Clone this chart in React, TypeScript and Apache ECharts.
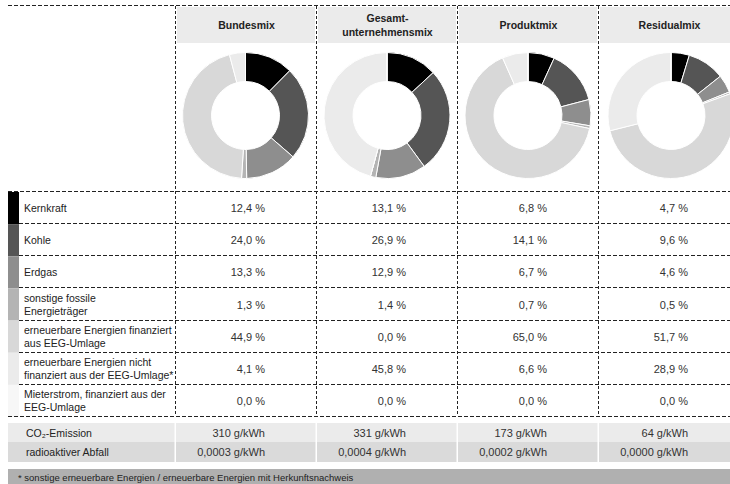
import React, { useEffect, useRef } from "react";
import * as echarts from "echarts";

const mixes = ["Bundesmix", "Gesamt-\nunternehmensmix", "Produktmix", "Residualmix"];
const categories = [
  "Kernkraft",
  "Kohle",
  "Erdgas",
  "sonstige fossile\nEnergieträger",
  "erneuerbare Energien finanziert\naus EEG-Umlage",
  "erneuerbare Energien nicht\nfinanziert aus der EEG-Umlage*",
  "Mieterstrom, finanziert aus der\nEEG-Umlage",
];
const bundesmix = [12.4, 24.0, 13.3, 1.3, 44.9, 4.1, 0.0];
const gesamtmix = [13.1, 26.9, 12.9, 1.4, 0.0, 45.8, 0.0];
const produktmix = [6.8, 14.1, 6.7, 0.7, 65.0, 6.6, 0.0];
const residualmix = [4.7, 9.6, 4.6, 0.5, 51.7, 28.9, 0.0];
const co2Values = [310, 331, 173, 64];
const wasteValues = [0.0003, 0.0004, 0.0002, 0.0];
const bottomLabels = ["CO₂-Emission", "radioaktiver Abfall"];
const footnote = "* sonstige erneuerbare Energien / erneuerbare Energien mit Herkunftsnachweis";

const sliceColors = ["#000000", "#555555", "#8e8e8e", "#b4b4b4", "#d8d8d8", "#ebebeb", "#f7f7f7"];
const FONT = "'Liberation Sans', Arial, 'DejaVu Sans', sans-serif";

const fmtPct = (v: number) => v.toFixed(1).replace(".", ",") + " %";
const fmtCo2 = (v: number) => `${v} g/kWh`;
const fmtWaste = (v: number) => v.toFixed(4).replace(".", ",") + " g/kWh";

export default function App() {
  const ref = useRef<HTMLDivElement>(null);
  useEffect(() => {
    if (!ref.current) return;
    const chart = echarts.init(ref.current, undefined, { renderer: "svg" });
    const allMixes = [bundesmix, gesamtmix, produktmix, residualmix];

    const colX = [175, 316, 457, 598];
    const colW = 141;
    const pieCX = [245.5, 387, 528, 671];
    const pieCY = 115.5;
    const rowTop = 191;
    const rowH = 32.15;
    const tableBottom = rowTop + categories.length * rowH;

    const graphics: any[] = [];
    const dash = { stroke: "#222", lineWidth: 1, lineDash: [4, 2] };

    // header bands
    colX.forEach((x, i) => {
      graphics.push({
        type: "rect",
        shape: { x: x + 2, y: 7, width: (i === 3 ? 732 - x : colW) - 3, height: 36 },
        style: { fill: "#ebebeb" },
        silent: true,
      });
      graphics.push({
        type: "text",
        style: {
          text: mixes[i],
          x: x + colW / 2 + 1,
          y: 25,
          textAlign: "center",
          textVerticalAlign: "middle",
          fontFamily: FONT,
          fontSize: 10.5,
          fontWeight: "bold",
          lineHeight: 14,
          fill: "#222",
        },
        silent: true,
      });
    });

    // swatches
    categories.forEach((_, i) => {
      graphics.push({
        type: "rect",
        shape: { x: 8, y: rowTop + i * rowH + 1, width: 11, height: rowH },
        style: { fill: sliceColors[i] },
        silent: true,
      });
    });

    // horizontal dashed lines
    graphics.push({
      type: "line",
      shape: { x1: 8, y1: 5.5, x2: 730, y2: 5.5 },
      style: dash,
      silent: true,
    });
    for (let i = 0; i <= categories.length; i++) {
      const y = Math.round(rowTop + i * rowH) + 0.5;
      const x1 = i === 0 || i === categories.length ? 8 : 19;
      graphics.push({
        type: "line",
        shape: { x1, y1: y, x2: 730, y2: y },
        style: dash,
        silent: true,
      });
    }
    // vertical dashed lines
    colX.forEach((x) => {
      graphics.push({
        type: "line",
        shape: { x1: x + 0.5, y1: 6, x2: x + 0.5, y2: Math.round(tableBottom) },
        style: { stroke: "#222", lineWidth: 1, lineDash: [3, 2] },
        silent: true,
      });
    });

    // row labels and values
    categories.forEach((c, i) => {
      const cy = rowTop + i * rowH + rowH / 2 + 1;
      graphics.push({
        type: "text",
        style: {
          text: c,
          x: 24,
          y: cy,
          textAlign: "left",
          textVerticalAlign: "middle",
          fontFamily: FONT,
          fontSize: 10.5,
          lineHeight: 13,
          fill: "#222",
        },
        silent: true,
      });
      allMixes.forEach((m, j) => {
        graphics.push({
          type: "text",
          style: {
            text: fmtPct(m[i]),
            x: colX[j] + 90,
            y: cy,
            textAlign: "right",
            textVerticalAlign: "middle",
            fontFamily: FONT,
            fontSize: 11,
            fill: "#333",
          },
          silent: true,
        });
      });
    });

    // bottom rows
    const bottomRows = [
      { top: 423, h: 19, fill: "#ebebeb", vals: co2Values.map(fmtCo2) },
      { top: 442, h: 20, fill: "#dadada", vals: wasteValues.map(fmtWaste) },
    ];
    bottomRows.forEach((r, k) => {
      graphics.push({
        type: "rect",
        shape: { x: 8, y: r.top, width: 722, height: r.h },
        style: { fill: r.fill },
        silent: true,
      });
      graphics.push({
        type: "text",
        style: {
          text: bottomLabels[k],
          x: 26,
          y: r.top + r.h / 2,
          textAlign: "left",
          textVerticalAlign: "middle",
          fontFamily: FONT,
          fontSize: 10.5,
          fill: "#222",
        },
        silent: true,
      });
      r.vals.forEach((v, j) => {
        graphics.push({
          type: "text",
          style: {
            text: v,
            x: colX[j] + 90,
            y: r.top + r.h / 2,
            textAlign: "right",
            textVerticalAlign: "middle",
            fontFamily: FONT,
            fontSize: 11,
            fill: "#333",
          },
          silent: true,
        });
      });
    });
    colX.forEach((x) => {
      graphics.push({
        type: "rect",
        shape: { x: x - 0.5, y: 423, width: 1.5, height: 39 },
        style: { fill: "#ffffff" },
        silent: true,
      });
    });

    // footnote bar
    graphics.push({
      type: "rect",
      shape: { x: 8, y: 469, width: 722, height: 16 },
      style: { fill: "#b0b0b0" },
      silent: true,
    });
    graphics.push({
      type: "text",
      style: {
        text: footnote,
        x: 18,
        y: 477,
        textAlign: "left",
        textVerticalAlign: "middle",
        fontFamily: FONT,
        fontSize: 9.5,
        fill: "#222",
      },
      silent: true,
    });

    const series = allMixes.map((m, j) => ({
      type: "pie",
      center: [pieCX[j], pieCY],
      radius: [34, 63],
      startAngle: 90,
      clockwise: true,
      silent: true,
      label: { show: false },
      labelLine: { show: false },
      emphasis: { disabled: true },
      itemStyle: { borderColor: "#ffffff", borderWidth: 1 },
      data: categories.map((c, i) => ({
        name: c,
        value: m[i],
        itemStyle: { color: sliceColors[i] },
      })),
    }));

    chart.setOption({
      animation: false,
      backgroundColor: "#ffffff",
      series,
      graphic: { elements: graphics },
    });
    return () => chart.dispose();
  }, []);

  return (
    <div
      ref={ref}
      style={{ position: "fixed", left: 0, top: 0, width: 730, height: 484 }}
    />
  );
}
